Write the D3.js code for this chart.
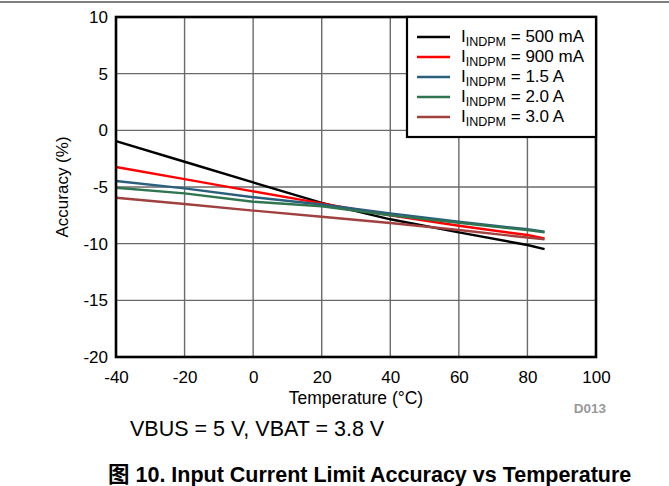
<!DOCTYPE html>
<html><head><meta charset="utf-8">
<script src="https://cdn.jsdelivr.net/npm/d3@7"></script>
<style>body{margin:0;background:#fff}svg{display:block;font-family:"Liberation Sans",Arial,sans-serif}</style>
</head><body><svg id="c" width="669" height="486"></svg>
<script>
const temps = [-40, -20, 0, 20, 40, 60, 80, 85];
const s500 = [-0.95, -2.77, -4.6, -6.4, -7.85, -9.0, -10.12, -10.48];
const s900 = [-3.24, -4.3, -5.38, -6.45, -7.5, -8.42, -9.24, -9.53];
const s15 = [-4.47, -5.12, -5.9, -6.55, -7.33, -8.07, -8.73, -8.95];
const s20 = [-5.06, -5.56, -6.3, -6.7, -7.5, -8.15, -8.8, -9.0];
const s30 = [-5.95, -6.5, -7.08, -7.62, -8.18, -8.8, -9.46, -9.62];
const seriesNames = ["500 mA", "900 mA", "1.5 A", "2.0 A", "3.0 A"];
const seriesColors = ["#000000", "#ff0000", "#2b5f7e", "#2f7550", "#a0413f"];
const xTicks = [-40, -20, 0, 20, 40, 60, 80, 100];
const yTicks = [10, 5, 0, -5, -10, -15, -20];

const series = [s500, s900, s15, s20, s30];
const svg = d3.select("#c");
const L = 116, R = 596, T = 17, B = 357;
const x = d3.scaleLinear().domain([-40, 100]).range([L, R]);
const y = d3.scaleLinear().domain([-20, 10]).range([B, T]);
const FF = "'Liberation Sans', Arial, sans-serif";

svg.append("line").attr("x1", 0).attr("x2", 669).attr("y1", 2).attr("y2", 2).attr("stroke", "#000").attr("stroke-width", 1.2);

const g = svg.append("g");
g.selectAll(".gx").data(xTicks.slice(1, -1)).join("line")
  .attr("x1", d => x(d)).attr("x2", d => x(d)).attr("y1", T).attr("y2", B)
  .attr("stroke", "#6a6a6a").attr("stroke-width", 1.4);
g.selectAll(".gy").data(yTicks.slice(1, -1)).join("line")
  .attr("y1", d => y(d)).attr("y2", d => y(d)).attr("x1", L).attr("x2", R)
  .attr("stroke", "#6a6a6a").attr("stroke-width", 1.4);

const line = d3.line().x((d, i) => x(temps[i])).y(d => y(d));
series.forEach((s, k) => {
  svg.append("path").datum(s).attr("d", line).attr("fill", "none")
    .attr("stroke", seriesColors[k]).attr("stroke-width", 2.4);
});

svg.append("rect").attr("x", L).attr("y", T).attr("width", R - L).attr("height", B - T)
  .attr("fill", "none").attr("stroke", "#000").attr("stroke-width", 2.6);

const fmt = d => String(d);
const xa = d3.axisBottom(x).tickValues(xTicks).tickSize(0).tickPadding(14).tickFormat(fmt);
const gx = svg.append("g").attr("transform", `translate(0,${B})`).call(xa);
gx.select(".domain").remove();
gx.selectAll("text").attr("font-size", 17).attr("fill", "#000").attr("font-family", FF);
const ya = d3.axisLeft(y).tickValues(yTicks).tickSize(0).tickPadding(8).tickFormat(fmt);
const gy = svg.append("g").attr("transform", `translate(${L},0)`).call(ya);
gy.select(".domain").remove();
gy.selectAll("text").attr("font-size", 17).attr("fill", "#000").attr("font-family", FF);

svg.append("text").attr("x", 356).attr("y", 404).attr("text-anchor", "middle")
  .attr("font-size", 17.5).text("Temperature (°C)");
svg.append("text").attr("transform", `translate(68,${(T + B) / 2}) rotate(-90)`).attr("text-anchor", "middle")
  .attr("font-size", 17).text("Accuracy (%)");
svg.append("text").attr("x", 606).attr("y", 413).attr("text-anchor", "end")
  .attr("font-size", 13.5).attr("font-weight", "bold").attr("fill", "#999").text("D013");
svg.append("text").attr("x", 130).attr("y", 436).attr("font-size", 21.5).text("VBUS = 5 V, VBAT = 3.8 V");
svg.append("text").attr("x", 108).attr("y", 482).attr("font-size", 21.5).attr("font-weight", "bold")
  .attr("font-family", "'Liberation Sans','Noto Sans CJK SC',sans-serif")
  .text("图 10. Input Current Limit Accuracy vs Temperature");

const lg = svg.append("g");
lg.append("rect").attr("x", 407).attr("y", T).attr("width", R - 407).attr("height", 137 - T)
  .attr("fill", "#fff").attr("stroke", "#000").attr("stroke-width", 2.2);
seriesNames.forEach((n, k) => {
  const yy = 37 + k * 20;
  lg.append("line").attr("x1", 417).attr("x2", 450).attr("y1", yy).attr("y2", yy)
    .attr("stroke", seriesColors[k]).attr("stroke-width", 2.4);
  const t = lg.append("text").attr("x", 461).attr("y", yy + 5).attr("font-size", 17);
  t.append("tspan").text("I");
  t.append("tspan").attr("font-size", 12.5).attr("dy", 4).text("INDPM");
  t.append("tspan").attr("dy", -4).text(" = " + n);
});
</script></body></html>
